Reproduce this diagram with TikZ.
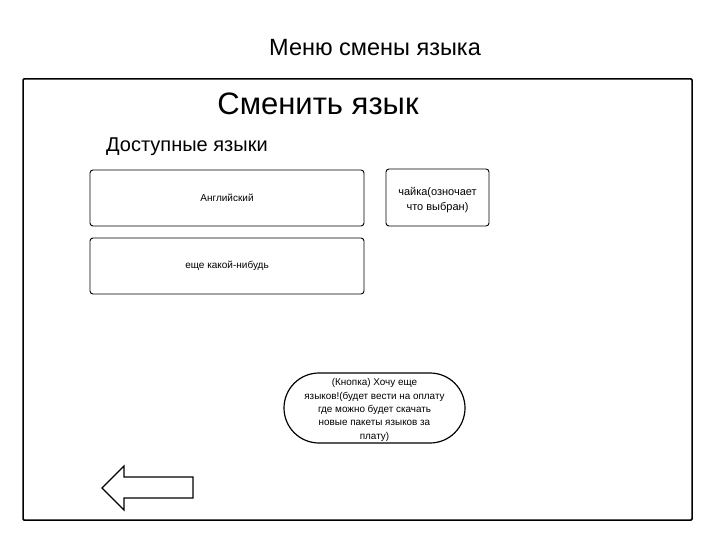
\documentclass[tikz,border=0pt]{standalone}
\usepackage{fontspec}
\setmainfont{Liberation Sans}
\usetikzlibrary{shapes.geometric,shapes.misc}
\tikzset{
  box/.style={draw, line width=0.9pt, rounded corners=3pt, align=center, font=\fontsize{10}{14}\selectfont},
  pill/.style={draw, line width=1.2pt, rounded rectangle, align=center, font=\fontsize{9.9}{13.3}\selectfont},
}
\begin{document}
\begin{tikzpicture}[x=1pt,y=-1pt]
\useasboundingbox (0,0) rectangle (720,540);
\node (title) at (375,48) {\fontsize{23.5}{26}\selectfont Меню смены языка};
\draw[line width=1.5pt, rounded corners=1pt] (23,79) rectangle (692,520);
\node[anchor=base] (head) at (318,115) {\fontsize{31}{34}\selectfont Сменить язык};
\node[anchor=base west, inner sep=0pt] (avail) at (106,152) {\fontsize{20}{22}\selectfont Доступные языки};
\node[box, minimum width=274pt, minimum height=56pt] (en) at (227,198) {Английский};
\node[box, minimum width=274pt, minimum height=56pt] (other) at (227,266) {еще какой-нибудь};
\node[box, minimum width=103pt, minimum height=57pt] (tick) at (437.5,197.5) {};
\node[align=center, font=\fontsize{11}{14.5}\selectfont] (ticktext) at (437.5,200) {чайка(озночает\\что выбран)};
\node[pill, minimum width=183pt, minimum height=70pt, inner sep=1pt] (more) at (374.5,408)
  {};
\node[align=center, font=\fontsize{9.9}{13.3}\selectfont] (moretext) at (374.5,410)
  {(Кнопка) Хочу еще\\языков!(будет вести на оплату\\где можно будет скачать\\новые пакеты языков за\\плату)};
\draw[line width=1.2pt, line join=miter] (193,477) -- (124,477) -- (124,466) -- (102,488) -- (124,510) -- (124,498) -- (193,498) -- cycle;
\end{tikzpicture}
\end{document}
